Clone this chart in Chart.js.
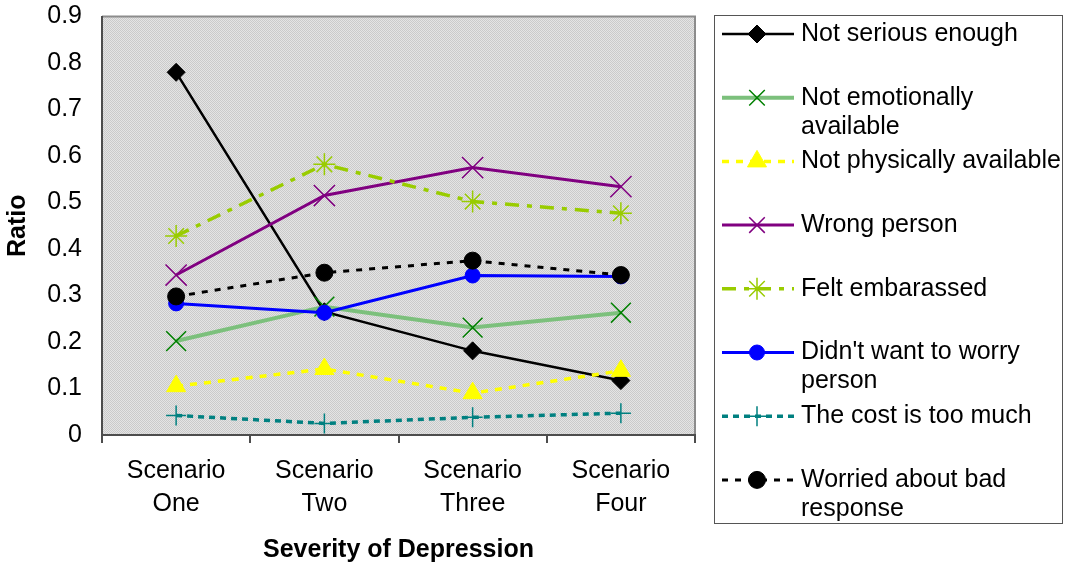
<!DOCTYPE html>
<html>
<head>
<meta charset="utf-8">
<script src="https://cdn.jsdelivr.net/npm/chart.js@4/dist/chart.umd.min.js"></script>
<style>
  html, body { margin: 0; padding: 0; background: #fff; }
  #wrap { width: 1067px; height: 565px; position: relative; }
</style>
</head>
<body>
<div id="wrap"><canvas id="grafico"></canvas></div>
<script>
// categorias y series
const scenarios = [["Scenario", "One"], ["Scenario", "Two"], ["Scenario", "Three"], ["Scenario", "Four"]];
const yTicks = [0, 0.1, 0.2, 0.3, 0.4, 0.5, 0.6, 0.7, 0.8, 0.9];

const seriesNames = [
  "Not serious enough",
  "Not emotionally available",
  "Not physically available",
  "Wrong person",
  "Felt embarassed",
  "Didn't want to worry person",
  "The cost is too much",
  "Worried about bad response",
];

const notSerious = [0.78, 0.265, 0.181, 0.117];
const notEmotional = [0.202, 0.276, 0.231, 0.263];
const notPhysical = [0.105, 0.142, 0.09, 0.138];
const wrongPerson = [0.344, 0.515, 0.575, 0.534];
const feltEmbarassed = [0.428, 0.582, 0.502, 0.477];
const dontWorry = [0.283, 0.263, 0.343, 0.341];
const costTooMuch = [0.042, 0.025, 0.038, 0.047];
const badResponse = [0.298, 0.349, 0.375, 0.344];

const FONT = '"Liberation Sans", Arial, sans-serif';
Chart.defaults.font.family = FONT;
Chart.defaults.color = "#000";

function serie(i, data, color, width, dash, style, radius, fill, pw) {
  return {
    label: seriesNames[i],
    data: data,
    borderColor: color,
    borderWidth: width,
    borderDash: dash,
    pointStyle: style,
    pointRadius: radius,
    pointBackgroundColor: fill,
    pointBorderColor: fill,
    pointBorderWidth: pw,
    tension: 0,
    order: 7 - i,
  };
}

const datasets = [
  serie(0, notSerious, "#000000", 2.5, [], "rectRot", 9, "#000000", 1),
  serie(1, notEmotional, "#7cc07c", 4, [], "crossRot", 14, "#008000", 1.5),
  serie(2, notPhysical, "#ffff00", 3.5, [7, 7], "triangle", 11, "#ffff00", 1),
  serie(3, wrongPerson, "#800080", 3, [], "crossRot", 15, "#800080", 1.5),
  serie(4, feltEmbarassed, "#99cc00", 3.5, [14, 8, 5, 8], "star", 11, "#99cc00", 1.5),
  serie(5, dontWorry, "#0000ff", 3, [], "circle", 7.5, "#0000ff", 1),
  serie(6, costTooMuch, "#008080", 3.5, [6, 5], "cross", 10, "#008080", 1.5),
  serie(7, badResponse, "#000000", 3, [6, 7], "circle", 8.5, "#000000", 1),
];

// fondo punteado gris del area de trazado
function patronFondo(ctx) {
  const c = document.createElement("canvas");
  c.width = 2; c.height = 2;
  const p = c.getContext("2d");
  p.fillStyle = "#e4e4e4"; p.fillRect(0, 0, 2, 2);
  p.fillStyle = "#cacaca"; p.fillRect(0, 0, 1, 1); p.fillRect(1, 1, 1, 1);
  return ctx.createPattern(c, "repeat");
}

const fondoPlugin = {
  id: "fondo",
  beforeDraw(chart) {
    const { ctx, chartArea: a } = chart;
    ctx.save();
    ctx.fillStyle = patronFondo(ctx);
    ctx.fillRect(a.left, a.top, a.right - a.left, a.bottom - a.top);
    ctx.strokeStyle = "#8c8c8c";
    ctx.lineWidth = 2;
    ctx.beginPath();
    ctx.moveTo(a.left, a.top);
    ctx.lineTo(a.right, a.top);
    ctx.lineTo(a.right, a.bottom);
    ctx.stroke();
    ctx.restore();
  },
};

function envolver(ctx, text, maxW) {
  const words = text.split(" ");
  const lines = [];
  let cur = "";
  words.forEach((w) => {
    const t = cur ? cur + " " + w : w;
    if (cur && ctx.measureText(t).width > maxW) {
      lines.push(cur);
      cur = w;
    } else cur = t;
  });
  lines.push(cur);
  return lines;
}

// leyenda propia: muestra de linea con su marcador y texto en varias lineas
const leyendaPlugin = {
  id: "leyenda",
  afterDraw(chart) {
    const ctx = chart.ctx;
    ctx.save();
    ctx.strokeStyle = "#555";
    ctx.lineWidth = 1;
    ctx.strokeRect(714.5, 15.5, 348, 508);
    ctx.font = "25px " + FONT;
    ctx.textBaseline = "middle";
    ctx.fillStyle = "#000";
    chart.data.datasets.forEach((ds, i) => {
      const y = 34 + i * 63.7;
      ctx.save();
      ctx.strokeStyle = ds.borderColor;
      ctx.lineWidth = ds.borderWidth;
      ctx.setLineDash(ds.borderDash);
      ctx.beginPath();
      ctx.moveTo(722, y);
      ctx.lineTo(794, y);
      ctx.stroke();
      ctx.setLineDash([]);
      ctx.fillStyle = ds.pointBackgroundColor;
      ctx.strokeStyle = ds.pointBorderColor;
      ctx.lineWidth = ds.pointBorderWidth;
      Chart.helpers.drawPoint(ctx, { pointStyle: ds.pointStyle, radius: Math.min(ds.pointRadius, 11), borderWidth: ds.pointBorderWidth, rotation: 0 }, 757, y);
      ctx.restore();
      envolver(ctx, ds.label, 266).forEach((ln, k) => {
        ctx.fillText(ln, 801, y + k * 29);
      });
    });
    ctx.restore();
  },
};

new Chart(document.getElementById("grafico"), {
  type: "line",
  data: { labels: scenarios, datasets: datasets },
  options: {
    responsive: true,
    maintainAspectRatio: false,
    animation: false,
    layout: { padding: { top: 0, right: 372, left: 0, bottom: 0 } },
    plugins: { legend: { display: false }, tooltip: { enabled: false } },
    scales: {
      x: {
        offset: true,
        grid: { display: true, offset: true, drawOnChartArea: false, drawTicks: true, tickLength: 8, color: "#4d4d4d", lineWidth: 2 },
        border: { display: true, color: "#4d4d4d", width: 2 },
        ticks: { padding: 12, font: { size: 25, lineHeight: 1.3 }, maxRotation: 0, autoSkip: false },
        title: { display: true, text: "Severity of Depression", font: { size: 25, weight: "bold" }, padding: { top: 15, bottom: 0 } },
        afterFit(scale) {
          scale.height = 130;
          scale.paddingLeft = 0;
          scale.paddingRight = 0;
        },
      },
      y: {
        min: 0,
        max: 0.9,
        afterBuildTicks(scale) {
          scale.ticks = yTicks.map((v) => ({ value: v }));
        },
        grid: { display: false, drawTicks: false },
        border: { display: true, color: "#4d4d4d", width: 2 },
        ticks: {
          padding: 20,
          font: { size: 25 },
          callback: (v) => (v === 0 ? "0" : v.toFixed(1)),
        },
        title: { display: true, text: "Ratio", font: { size: 25, weight: "bold" }, padding: { top: 3, bottom: 15 } },
        afterFit(scale) {
          scale.width = 102;
          scale.paddingTop = 16;
          scale.paddingBottom = 0;
        },
      },
    },
  },
  plugins: [fondoPlugin, leyendaPlugin],
});
</script>
</body>
</html>
